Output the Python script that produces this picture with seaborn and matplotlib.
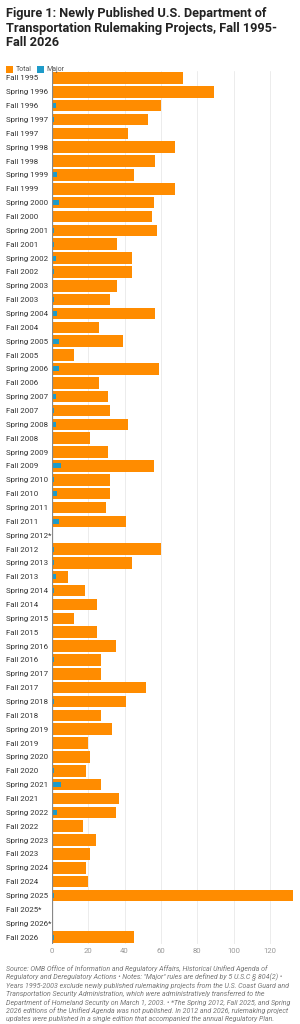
import matplotlib
matplotlib.use("Agg")
import matplotlib.pyplot as plt
import seaborn as sns
import pandas as pd
from matplotlib.patches import Rectangle

categories = [
    "Fall 1995", "Spring 1996", "Fall 1996", "Spring 1997", "Fall 1997", "Spring 1998",
    "Fall 1998", "Spring 1999", "Fall 1999", "Spring 2000", "Fall 2000", "Spring 2001",
    "Fall 2001", "Spring 2002", "Fall 2002", "Spring 2003", "Fall 2003", "Spring 2004",
    "Fall 2004", "Spring 2005", "Fall 2005", "Spring 2006", "Fall 2006", "Spring 2007",
    "Fall 2007", "Spring 2008", "Fall 2008", "Spring 2009", "Fall 2009", "Spring 2010",
    "Fall 2010", "Spring 2011", "Fall 2011", "Spring 2012*", "Fall 2012", "Spring 2013",
    "Fall 2013", "Spring 2014", "Fall 2014", "Spring 2015", "Fall 2015", "Spring 2016",
    "Fall 2016", "Spring 2017", "Fall 2017", "Spring 2018", "Fall 2018", "Spring 2019",
    "Fall 2019", "Spring 2020", "Fall 2020", "Spring 2021", "Fall 2021", "Spring 2022",
    "Fall 2022", "Spring 2023", "Fall 2023", "Spring 2024", "Fall 2024", "Spring 2025",
    "Fall 2025*", "Spring 2026*", "Fall 2026",
]
total = [
    72, 89, 60, 53, 42, 68,
    57, 45, 68, 56, 55, 58,
    36, 44, 44, 36, 32, 57,
    26, 39, 12, 59, 26, 31,
    32, 42, 21, 31, 56, 32,
    32, 30, 41, 0, 60, 44,
    9, 18, 25, 12, 25, 35,
    27, 27, 52, 41, 27, 33,
    20, 21, 19, 27, 37, 35,
    17, 24, 21, 19, 20, 133,
    0, 0, 45,
]
major = [
    0, 0, 2, 1, 0, 0,
    0, 3, 0, 4, 0, 1,
    1, 2, 1, 0, 1, 3,
    0, 4, 0, 4, 0, 2,
    1, 2, 0, 0, 5, 1,
    3, 0, 4, 0, 1, 1,
    2, 1, 0, 0, 0, 0,
    1, 0, 0, 1, 0, 0,
    0, 0, 1, 5, 0, 3,
    0, 0, 0, 0, 0, 1,
    0, 0, 1,
]
x_ticks = [0, 20, 40, 60, 80, 100, 120]

df = pd.DataFrame({"period": categories, "Total": total, "Major": major})

sns.set_theme(style="white")
plt.rcParams["font.family"] = ["Roboto", "DejaVu Sans"]

W, H = 300, 1024
fig = plt.figure(figsize=(W / 100, H / 100), dpi=100)
fig.patch.set_facecolor("white")

ax_left, ax_right, ax_top, ax_bottom = 52, 294, 71, 944
ax = fig.add_axes([ax_left / W, 1 - ax_bottom / H, (ax_right - ax_left) / W, (ax_bottom - ax_top) / H])

ORANGE = "#FF8C00"
BLUE = "#1E9BC9"

sns.barplot(data=df, y="period", x="Total", order=categories, color=ORANGE, saturation=1,
            width=0.84, linewidth=0, ax=ax, orient="h", zorder=2)
sns.barplot(data=df, y="period", x="Major", order=categories, color=BLUE, saturation=1,
            width=0.36, linewidth=0, ax=ax, orient="h", zorder=3)

ax.set_xlim(0, 133.3)
ax.set_ylim(len(categories) - 0.5, -0.5)
ax.set_xlabel("")
ax.set_ylabel("")
ax.set_xticks(x_ticks)
ax.set_xticklabels([str(t) for t in x_ticks])
ax.tick_params(axis="x", length=0, pad=3, labelsize=5.6, labelcolor="#999999")
ax.tick_params(axis="y", length=0, pad=33.1, labelsize=5.7, labelcolor="#333333")
for lab in ax.get_yticklabels():
    lab.set_horizontalalignment("left")

ax.grid(axis="x", color="#ececec", linewidth=0.7, zorder=0)
ax.set_axisbelow(True)
for s in ax.spines.values():
    s.set_visible(False)
ax.axvline(0, color="#888888", linewidth=0.9, zorder=4)

# Title
title_lines = ["Figure 1: Newly Published U.S. Department of",
               "Transportation Rulemaking Projects, Fall 1995-",
               "Fall 2026"]
for i, line in enumerate(title_lines):
    fig.text(6 / W, 1 - (13.5 + i * 14.7) / H, line, fontsize=9.15, fontweight="bold",
             color="#222222", ha="left", va="center")

# Legend
for x0, c, lab in [(6, ORANGE, "Total"), (37, BLUE, "Major")]:
    fig.patches.append(Rectangle((x0 / W, 1 - 73 / H), 7 / W, 7 / H,
                                 transform=fig.transFigure, facecolor=c, edgecolor="none"))
    fig.text((x0 + 9.5) / W, 1 - 69.5 / H, lab, fontsize=5.0, color="#555555",
             ha="left", va="center")

# Footnote
notes = [
    "Source: OMB Office of Information and Regulatory Affairs, Historical Unified Agenda of",
    "Regulatory and Deregulatory Actions \u2022 Notes: \"Major\" rules are defined by 5 U.S.C \u00a7 804(2) \u2022",
    "Years 1995-2003 exclude newly published rulemaking projects from the U.S. Coast Guard and",
    "Transportation Security Administration, which were administratively transferred to the",
    "Department of Homeland Security on March 1, 2003. \u2022 *The Spring 2012, Fall 2025, and Spring",
    "2026 editions of the Unified Agenda was not published. In 2012 and 2026, rulemaking project",
    "updates were published in a single edition that accompanied the annual Regulatory Plan.",
]
for i, line in enumerate(notes):
    fig.text(6 / W, 1 - (969 + i * 8.35) / H, line, fontsize=5.0, fontstyle="italic",
             color="#777777", ha="left", va="center")

fig.savefig("out.png", dpi=100, facecolor="white")
